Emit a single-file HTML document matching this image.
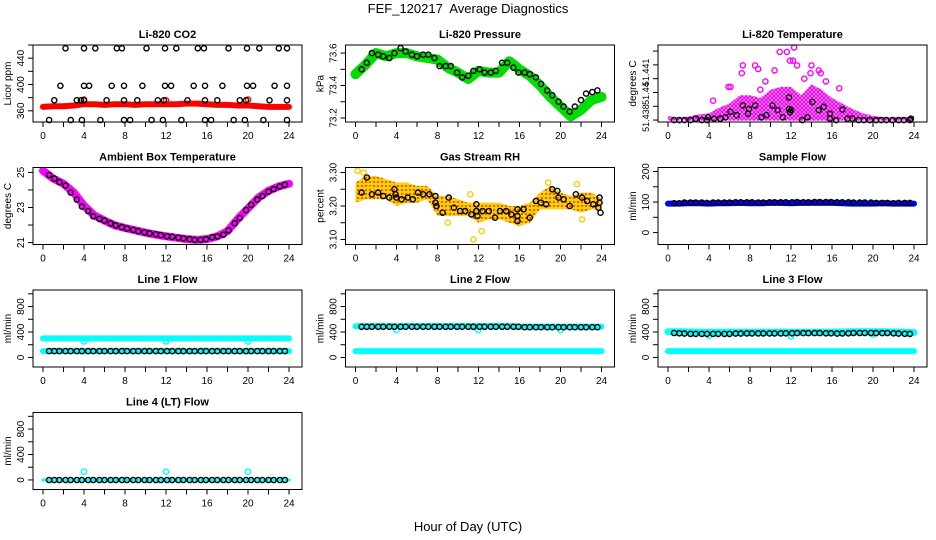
<!DOCTYPE html>
<html><head><meta charset="utf-8"><title>FEF_120217 Average Diagnostics</title>
<style>
html,body{margin:0;padding:0;background:#fff;}
svg{display:block;font-family:"Liberation Sans",Arial,sans-serif;}
text{white-space:pre;}
</style></head>
<body>
<svg id="chart" width="936" height="540" viewBox="0 0 936 540" xmlns="http://www.w3.org/2000/svg">
<defs>
<pattern id="magDots" width="4" height="4" patternUnits="userSpaceOnUse"><rect width="4" height="4" fill="#fff"/><circle cx="2" cy="2" r="1.5" fill="none" stroke="#ff00ff" stroke-width="1.4"/></pattern>
<pattern id="rhDots" width="4" height="4" patternUnits="userSpaceOnUse"><rect width="4" height="4" fill="#ffd000"/><circle cx="2" cy="2" r="1" fill="#e83a00"/></pattern>
</defs>
<text x="468" y="13" text-anchor="middle" font-size="13">FEF_120217  Average Diagnostics</text>
<text x="468" y="531" text-anchor="middle" font-size="13">Hour of Day (UTC)</text>
</svg>
<script>
// ---------- shared data ----------
const blackHours=[0.6,1.1,1.6,2.2,2.7,3.3,3.8,4.4,4.9,5.5,6.0,6.6,7.1,7.7,8.2,8.8,9.3,9.9,10.4,11.0,11.5,12.1,12.6,13.2,13.7,14.3,14.8,15.4,15.9,16.5,17.0,17.6,18.1,18.7,19.2,19.8,20.3,20.9,21.4,22.0,22.5,23.1,23.6];
const bandHours=[0,1,2,3,4,5,6,7,8,9,10,11,12,13,14,15,16,17,18,19,20,21,22,23,24];
const xTickVals=[0,2,4,6,8,10,12,14,16,18,20,22,24];
const xLabelVals=[0,4,8,12,16,20,24];

// CO2
const co2BlackHours=[2.2,4,5.1,7.2,7.7,10.1,11.9,13,15.1,15.7,18.1,19.9,21.1,23,23.8, 1.7,4,4.5,6.7,7.9,9.7,11.9,12.5,14.7,15.8,17.5,19.9,20.5,22.6,23.8, 1.1,3.3,3.7,4,6.2,7.9,9.2,11.2,11.8,14.1,15.8,17,19.2,19.8,22.1,23.8, 0.6,2.7,3.8,5.6,7.9,8.5,10.6,11.7,13.5,15.8,16.4,18.6,19.7,21.5,23.8];
const co2BlackVals=[455,455,455,455,455,455,455,455,455,455,455,455,455,455,455, 398,398,398,398,398,398,398,398,398,398,398,398,398,398,398, 376,376,376,376,376,376,376,376,376,376,376,376,376,376,376,376, 346,346,346,346,346,346,346,346,346,346,346,346,346,346,346];
const co2Band=[366,367,367,368,370,370,369,370,370,369,370,370,370,370,371,371,370,369,369,368,368,367,366,366,366];
const co2BumpHours=[4,12,20];
const co2BumpVals=[377,376,377];
const co2Ticks=[360,380,400,420,440,460];
const co2Labels=[360,400,440];

// Pressure
const presBand=[73.47,73.53,73.60,73.58,73.60,73.60,73.58,73.57,73.56,73.51,73.48,73.44,73.49,73.48,73.48,73.55,73.50,73.46,73.40,73.33,73.27,73.21,73.25,73.31,73.33];
const presBlack=[73.50,73.54,73.60,73.59,73.58,73.57,73.60,73.63,73.61,73.59,73.58,73.59,73.59,73.57,73.52,73.52,73.52,73.48,73.45,73.46,73.49,73.50,73.48,73.48,73.49,73.54,73.54,73.51,73.48,73.48,73.47,73.45,73.41,73.37,73.34,73.30,73.27,73.24,73.27,73.31,73.35,73.36,73.37];
const presTicks=[73.2,73.3,73.4,73.5,73.6];
const presLabels=[73.2,73.4,73.6];

// Li-820 temperature
const tempEnvHigh=[51.43815,51.43808,51.43813,51.4382,51.43825,51.43845,51.4386,51.4389,51.4389,51.4388,51.4391,51.4392,51.4392,51.4389,51.4393,51.4391,51.4388,51.4386,51.4384,51.43825,51.43815,51.4381,51.4381,51.4381,51.43815];
const tempEnvLow=[51.43798,51.43798,51.43798,51.43798,51.43798,51.43798,51.43798,51.43798,51.43798,51.43798,51.43798,51.43798,51.43798,51.43798,51.43798,51.43798,51.43798,51.43798,51.43798,51.43798,51.43798,51.43798,51.43798,51.43798,51.43798];
const tempOutHours=[5.9,7.3,7.2,8.5,8.8,10.4,10.9,11.6,12.3,11.9,12.2,12.6,14.0,13.9,14.7,14.9,16.7,9.5,13.3,4.4,15.4,6.1,9.0];
const tempOutVals=[51.4392,51.43998,51.4397,51.43998,51.43985,51.4398,51.44047,51.44047,51.44063,51.44015,51.44015,51.43998,51.43998,51.4397,51.4398,51.4397,51.43915,51.4394,51.4395,51.4387,51.4394,51.4392,51.4391];
const tempBlackHours=[0.6,1.1,1.6,2.2,2.7,3.3,3.8,3.9,4.5,5.1,5.6,6.1,6.7,7.3,7.9,7.8,8.5,9.1,9.6,10.2,10.7,11.2,11.8,11.8,11.9,12.0,13.1,13.6,14.1,14.7,15.2,15.8,15.8,16.4,17.0,17.5,18.0,18.6,19.1,19.7,20.3,20.8,21.3,21.9,22.5,23.0,23.6,23.7];
const tempBlackVals=[51.438,51.438,51.438,51.438,51.43805,51.438,51.438,51.4381,51.43805,51.43805,51.4381,51.4383,51.43818,51.43853,51.4384,51.43823,51.43853,51.4381,51.43818,51.43853,51.43836,51.4381,51.43882,51.4384,51.43828,51.43836,51.438,51.4381,51.43866,51.43836,51.43848,51.43805,51.43823,51.438,51.43838,51.43805,51.43805,51.438,51.438,51.438,51.438,51.438,51.438,51.438,51.438,51.438,51.438,51.43805];
const tempTicks=[51.438,51.4385,51.439,51.4395,51.44,51.4405];
const tempLabelVals=[51.43807,51.43896,51.43973];
const tempLabelText=["51.438","51.44","51.441"];

// Ambient box temperature
const ambBand=[25.1,24.65,24.35,23.85,23.1,22.55,22.25,21.98,21.83,21.7,21.56,21.45,21.36,21.28,21.2,21.15,21.2,21.35,21.65,22.35,22.95,23.55,23.95,24.2,24.35];
const ambBlack=[24.85,24.65,24.45,24.25,23.85,23.45,23.05,22.8,22.5,22.35,22.25,22.1,21.98,21.88,21.8,21.72,21.65,21.58,21.52,21.48,21.42,21.36,21.33,21.28,21.24,21.2,21.15,21.15,21.2,21.3,21.35,21.45,21.7,22.1,22.4,22.85,23.15,23.45,23.65,23.9,24.05,24.2,24.3];
const ambTicks=[21,22,23,24,25];
const ambLabels=[21,23,25];

// Gas stream RH
const rhHigh=[3.27,3.29,3.29,3.28,3.27,3.27,3.26,3.26,3.23,3.23,3.22,3.21,3.21,3.21,3.21,3.20,3.20,3.21,3.24,3.26,3.24,3.23,3.24,3.24,3.22];
const rhLow=[3.21,3.22,3.22,3.22,3.20,3.21,3.21,3.22,3.17,3.17,3.17,3.17,3.15,3.16,3.16,3.15,3.14,3.15,3.19,3.19,3.19,3.19,3.18,3.19,3.19];
const rhBlackHours=[0.6,1.1,1.6,2.2,2.7,3.3,3.8,3.9,4.0,4.5,5.1,5.6,6.1,6.6,7.2,7.8,7.8,7.9,8.5,9.1,9.6,10.2,10.7,11.3,11.8,11.8,11.9,12.4,13.0,13.6,14.1,14.7,15.2,15.8,15.8,15.8,16.4,17.0,17.6,18.1,18.6,19.2,19.7,19.8,20.3,20.9,21.5,22.1,22.6,23.2,23.8,23.8,23.7,23.9];
const rhBlackVals=[3.24,3.285,3.235,3.24,3.23,3.225,3.25,3.235,3.225,3.22,3.225,3.22,3.24,3.235,3.235,3.23,3.21,3.2,3.18,3.225,3.195,3.185,3.185,3.175,3.205,3.185,3.17,3.185,3.185,3.165,3.185,3.185,3.175,3.19,3.17,3.155,3.19,3.165,3.215,3.21,3.205,3.25,3.245,3.225,3.22,3.2,3.235,3.225,3.215,3.205,3.225,3.21,3.195,3.18];
const rhOutHours=[11.5,12.3,9.0,0.2,0.8,11.2,21.6,18.8,1.5,22.1];
const rhOutVals=[3.10,3.125,3.15,3.305,3.30,3.235,3.265,3.27,3.25,3.16];
const rhTicks=[3.10,3.15,3.20,3.25,3.30];
const rhLabels=["3.10","3.20","3.30"];
const rhLabelVals=[3.10,3.20,3.30];

// Sample flow
const sampBand=[95,95,96,96,95,96,96,97,96,96,97,97,96,97,97,97,97,96,95,95,95,96,95,95,95];
const sampBlack=[96,96,98,98,98,98,97,98,98,98,98,99,99,99,99,98,98,99,99,99,99,99,100,99,99,100,100,100,100,99,99,99,98,98,98,98,97,97,97,96,97,97,97];
const sampTicks=[0,50,100,150,200];
const sampLabels=[0,100,200];

// Line flows
const flowTicks=[0,200,400,600,800,1000];
const flowLabels=[0,400,800];
const dipHours=[4,12,20];
const l1Hi=[300,300,300,300,300,300,300,300,300,300,300,300,300,300,300,300,300,300,300,300,300,300,300,300,300];
const l1Lo=[100,100,100,100,100,100,100,100,100,100,100,100,100,100,100,100,100,100,100,100,100,100,100,100,100];
const l1Dips=[250,250,250];
const l1Black=[100,100,100,100,100,100,100,100,100,100,100,100,100,100,100,100,100,100,100,100,100,100,100,100,100,100,100,100,100,100,100,100,100,100,100,100,100,100,100,100,100,100,100];
const l2Hi=[490,495,495,495,490,495,495,495,495,495,495,495,495,495,495,495,485,485,485,485,485,485,485,485,485];
const l2Lo=[100,100,100,100,100,100,100,100,100,100,100,100,100,100,100,100,100,100,100,100,100,100,100,100,100];
const l2Dips=[430,430,430];
const l2Black=[482,482,482,482,482,482,482,482,482,482,482,482,482,482,482,482,482,482,482,482,482,482,482,482,482,482,482,482,482,475,475,475,475,475,475,475,475,475,475,475,475,475,475];
const l3Hi=[405,405,400,395,395,395,395,395,395,395,395,395,395,395,395,395,395,400,405,405,405,405,400,395,390];
const l3Lo=[100,100,100,100,100,100,100,100,100,100,100,100,100,100,100,100,100,100,100,100,100,100,100,100,100];
const l3Dips=[340,330,360];
const l3Black=[385,380,375,370,370,370,370,370,370,370,370,375,375,378,378,378,378,378,378,378,380,380,382,382,382,382,382,380,380,375,378,380,385,385,385,385,382,382,385,380,375,372,370];
const l4Band=[0,0,0,0,0,0,0,0,0,0,0,0,0,0,0,0,0,0,0,0,0,0,0,0,0];
const l4Dips=[130,130,130];
const l4Black=[0,0,0,0,0,0,0,0,0,0,0,0,0,0,0,0,0,0,0,0,0,0,0,0,0,0,0,0,0,0,0,0,0,0,0,0,0,0,0,0,0,0,0];

// ---------- drawing ----------
const NS="http://www.w3.org/2000/svg";
const svg=document.getElementById('chart');
function mk(tag,attrs,parent){const e=document.createElementNS(NS,tag);for(const k in attrs)e.setAttribute(k,attrs[k]);(parent||svg).appendChild(e);return e;}

function makePanel(col,row,title,ytitle,ymin,ymax,yTicks,yLabelVals,yLabelText,name,labelSize){
  const x0=33+312.5*col, y0=45+122.5*row, w=269, h=77;
  const g=mk('g',{});
  
  
  const sx=v=>x0+10+v*10.25;
  const sy=v=>y0+h-(v-ymin)/(ymax-ymin)*h;
  const marks=mk('g',{},g);
  
  
  const t=mk('text',{x:x0+w/2,y:y0-7,'text-anchor':'middle','font-size':11,'font-weight':'bold'},g);
  t.textContent=title;
  
  
  const yt=mk('text',{x:x0-22,y:y0+h/2,'text-anchor':'middle','font-size':10,transform:`rotate(-90 ${x0-22} ${y0+h/2})`},g);
  yt.textContent=ytitle;
  
  
  const axes=mk('g',{stroke:'#000','stroke-width':1,fill:'none'},g);
  
  
  for(const v of xTickVals){mk('line',{x1:sx(v),x2:sx(v),y1:y0+h,y2:y0+h+5},axes);}
  for(const v of yTicks){mk('line',{x1:x0-5,x2:x0,y1:sy(v),y2:sy(v)},axes);}
  for(const v of xLabelVals){
    const l=mk('text',{x:sx(v),y:y0+h+17,'text-anchor':'middle','font-size':10},g);
    l.textContent=String(v);
    
    
  }
  yLabelVals.forEach((v,i)=>{
    const yy=sy(v), xx=x0-9;
    const l=mk('text',{x:xx,y:yy,'text-anchor':'middle','font-size':labelSize||10,transform:`rotate(-90 ${xx} ${yy})`},g);
    l.textContent=yLabelText?yLabelText[i]:String(v);
    
    
  });
  const box=mk('rect',{x:x0,y:y0,width:w,height:h,fill:'none',stroke:'#000','stroke-width':1},g);
  
  
  return {g:marks,sx,sy};
}
function band(p,hours,vals,color,width,name){
  const pts=hours.map((h,i)=>p.sx(h).toFixed(1)+','+p.sy(vals[i]).toFixed(1)).join(' ');
  const e=mk('polyline',{points:pts,fill:'none',stroke:color,'stroke-width':width,'stroke-linejoin':'round','stroke-linecap':'round'},p.g);
  
  
}
function area(p,hours,hi,lo,fill,name){
  const up=hours.map((h,i)=>p.sx(h).toFixed(1)+','+p.sy(hi[i]).toFixed(1));
  const dn=hours.map((h,i)=>p.sx(h).toFixed(1)+','+p.sy(lo[i]).toFixed(1)).reverse();
  const e=mk('polygon',{points:up.concat(dn).join(' '),fill:fill,stroke:'none'},p.g);
  
  
}
function dots(p,hours,vals,color,name,r){
  hours.forEach((h,i)=>{
    const c=mk('circle',{cx:p.sx(h).toFixed(1),cy:p.sy(vals[i]).toFixed(1),r:r||2.6,fill:'none',stroke:color,'stroke-width':1.4},p.g);
    
    
  });
}

// Row 1
let p=makePanel(0,0,'Li-820 CO2','Licor ppm',343,460,co2Ticks,co2Labels,null,'co2');
band(p,bandHours,co2Band,'#ff0000',6,'co2-band');
dots(p,co2BumpHours,co2BumpVals,'#ff0000','co2-red-point');
dots(p,co2BlackHours,co2BlackVals,'#000','co2-point');

p=makePanel(1,0,'Li-820 Pressure','kPa',73.175,73.65,presTicks,presLabels,null,'pressure');
band(p,bandHours,presBand,'#00dd00',10,'pressure-band');
dots(p,blackHours,presBlack,'#000','pressure-point');

p=makePanel(2,0,'Li-820 Temperature','degrees C',51.43793,51.44072,tempTicks,tempLabelVals,tempLabelText,'li820-temp',9);
area(p,bandHours,tempEnvHigh,tempEnvLow,'url(#magDots)','li820-temp-band');
dots(p,tempOutHours,tempOutVals,'#ff00ff','li820-temp-magenta-point');
dots(p,tempBlackHours,tempBlackVals,'#000','li820-temp-point');

// Row 2
p=makePanel(0,1,'Ambient Box Temperature','degrees C',20.89,25.28,ambTicks,ambLabels,null,'ambient-temp');
band(p,bandHours,ambBand,'#ff00ff',8,'ambient-temp-band');
dots(p,blackHours,ambBlack,'#000','ambient-temp-point');

p=makePanel(1,1,'Gas Stream RH','percent',3.085,3.315,rhTicks,rhLabelVals,rhLabels,'rh');
area(p,bandHours,rhHigh,rhLow,'url(#rhDots)','rh-band');
dots(p,rhOutHours,rhOutVals,'#ffcc00','rh-outlier-point');
dots(p,rhBlackHours,rhBlackVals,'#000','rh-point');

p=makePanel(2,1,'Sample Flow','ml/min',-39,213,sampTicks,sampLabels,null,'sample-flow');
band(p,bandHours,sampBand,'#0000ff',6,'sample-flow-band');
dots(p,blackHours,sampBlack,'#000','sample-flow-point');

// Row 3
p=makePanel(0,2,'Line 1 Flow','ml/min',-150,1060,flowTicks,flowLabels,null,'line1-flow');
band(p,bandHours,l1Hi,'#00ffff',6,'line1-high-band');
band(p,bandHours,l1Lo,'#00ffff',6,'line1-low-band');
dots(p,dipHours,l1Dips,'#00ffff','line1-dip-point');
dots(p,blackHours,l1Black,'#000','line1-point');

p=makePanel(1,2,'Line 2 Flow','ml/min',-150,1060,flowTicks,flowLabels,null,'line2-flow');
band(p,bandHours,l2Hi,'#00ffff',6,'line2-high-band');
band(p,bandHours,l2Lo,'#00ffff',6,'line2-low-band');
dots(p,dipHours,l2Dips,'#00ffff','line2-dip-point');
dots(p,blackHours,l2Black,'#000','line2-point');

p=makePanel(2,2,'Line 3 Flow','ml/min',-150,1060,flowTicks,flowLabels,null,'line3-flow');
band(p,bandHours,l3Hi,'#00ffff',7,'line3-high-band');
band(p,bandHours,l3Lo,'#00ffff',6,'line3-low-band');
dots(p,dipHours,l3Dips,'#00ffff','line3-dip-point');
dots(p,blackHours,l3Black,'#000','line3-point');

// Row 4
p=makePanel(0,3,'Line 4 (LT) Flow','ml/min',-150,1060,flowTicks,flowLabels,null,'line4-flow');
band(p,bandHours,l4Band,'#00ffff',3,'line4-band');
dots(p,dipHours,l4Dips,'#00ffff','line4-spike-point');
dots(p,blackHours,l4Black,'#000','line4-point');
</script>
</body></html>
